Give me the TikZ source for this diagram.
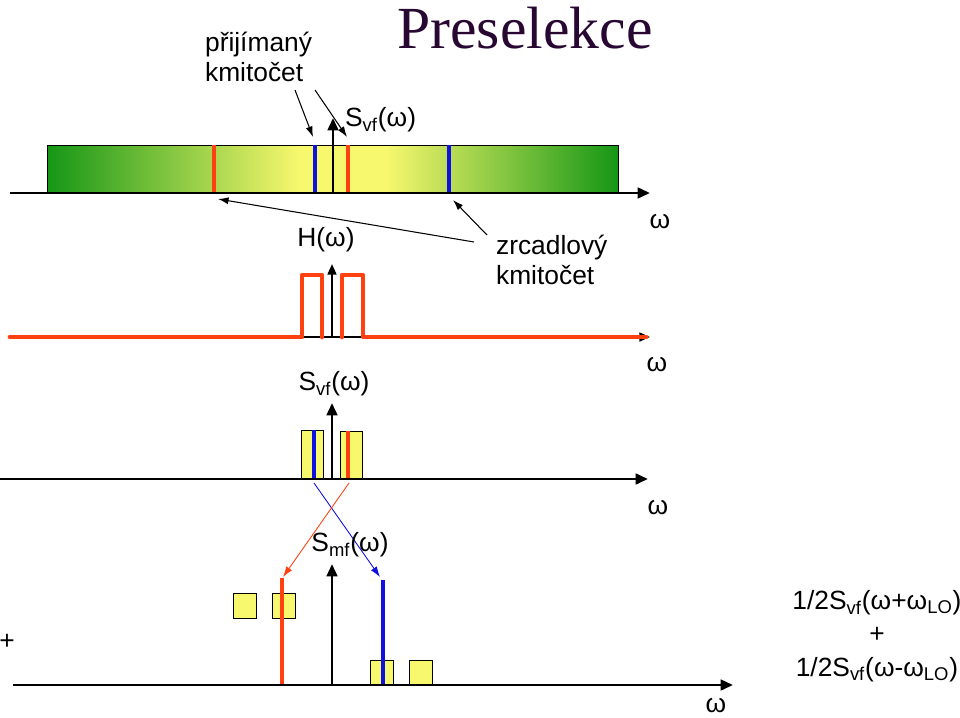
\documentclass[tikz,border=0pt]{standalone}
\usepackage{fontspec}
\setmainfont{Liberation Sans}
\newfontfamily\titlefont{Liberation Serif}
\usetikzlibrary{arrows.meta}
\definecolor{pred}{RGB}{255,64,16}
\definecolor{pblue}{RGB}{16,16,225}
\definecolor{pgreen}{RGB}{22,150,22}
\definecolor{pyellow}{RGB}{248,248,110}
\definecolor{ptitle}{RGB}{40,8,50}
\tikzset{osa/.style = {-{Triangle[length=7pt,width=6pt]}, line width=1.6pt}}
\tikzset{puls/.style = {line width=2.7pt, pred, line join=round, line cap=round}}
\tikzset{cara/.style = {line width=2.2pt}}
\tikzset{ctverec/.style = {draw, fill=pyellow, line width=0.5pt}}
\tikzset{popis/.style = {font=\fontsize{15}{17}\selectfont, inner sep=1pt}}
\tikzset{sipka/.style = {-{Latex[length=6pt,width=4pt]}, line width=0.6pt}}
\newcommand{\vf}{\textsubscript{vf}}

\begin{document}
\begin{tikzpicture}[x=0.02cm, y=-0.02cm]
\useasboundingbox (0,0) rectangle (960,717);

% nadpis
\node[font=\titlefont\fontsize{34}{36}\selectfont, text=ptitle] (nadpis) at (525,28) {Preselekce};
\node[popis, anchor=west, align=left] (prijimany) at (203,57) {přijímaný\\kmitočet};

% horni pas
\shade[left color=pgreen, right color=pyellow] (47,145) rectangle (300,193);
\fill[pyellow] (300,145) rectangle (385,193);
\shade[left color=pyellow, right color=pgreen] (385,145) rectangle (618,193);
\draw[thin] (47,145) rectangle (618,193);
\draw[cara, pred] (214,145) -- (214,193);
\draw[cara, pblue] (315,145) -- (315,193);
\draw[cara, pred] (348,145) -- (348,193);
\draw[cara, pblue] (449,145) -- (449,193);
\draw[line width=0.8pt] (333,145) -- (333,193);
\draw[osa] (333,146) -- (333,118);
\draw[osa] (10,193) -- (650,193);
\node[popis, anchor=west] (svf1) at (343,120) {S\vf(ω)};
\node[popis] (omega1) at (660,222) {ω};

\coordinate (p1) at (295,90);
\coordinate (p2) at (315,90);
\coordinate (c1) at (313,137);
\coordinate (c2) at (347,137);
\draw[sipka] (p1) -- (c1);
\draw[sipka] (p2) -- (c2);

\node[popis, anchor=west, align=left] (zrcadlovy) at (494,260) {zrcadlový\\kmitočet};
\coordinate (z1) at (474,242);
\coordinate (z2) at (487,235);
\coordinate (r1) at (218,199);
\coordinate (b1) at (453,200);
\draw[sipka] (z1) -- (r1);
\draw[sipka] (z2) -- (b1);

% filtr H
\node[popis] (hlabel) at (326,240) {H(ω)};
\draw[-{Triangle[length=6pt,width=5pt]}, line width=1.2pt] (10,337) -- (650,337);
\draw[puls] (10,337) -- (302,337) -- (302,275) -- (322,275) -- (322,337);
\draw[puls] (342,337) -- (342,275) -- (363,275) -- (363,337) -- (646,337);
\draw[-{Triangle[length=6pt,width=5pt]}, line width=1.2pt] (332,337) -- (332,264);
\node[popis] (omega2) at (657,365) {ω};

% spektrum vf
\node[popis] (svf2) at (334,384) {S\vf(ω)};
\draw[ctverec] (301,430) rectangle (323,479);
\draw[ctverec] (340,431) rectangle (362,479);
\draw[cara, pblue] (314,430) -- (314,479);
\draw[cara, pred] (348,431) -- (348,479);
\draw[osa] (332,479) -- (332,403);
\draw[osa] (0,479) -- (648,479);
\node[popis] (omega3) at (658,508) {ω};

\coordinate (vb) at (314,483);
\coordinate (vr) at (349,483);
\coordinate (mb) at (380,577);
\coordinate (mr) at (283,577);
\draw[sipka, pblue, line width=0.5pt] (vb) -- (mb);
\draw[sipka, pred, line width=0.5pt] (vr) -- (mr);
\node[popis] (smf) at (350,545) {S\textsubscript{mf}(ω)};

% spektrum mf
\draw[ctverec] (233,593) rectangle (256,618);
\draw[ctverec] (272,593) rectangle (295,618);
\draw[ctverec] (370,660) rectangle (393,685);
\draw[ctverec] (409,660) rectangle (432,685);
\draw[cara, pred] (282,578) -- (282,685);
\draw[cara, pblue] (383,580) -- (383,685);
\draw[osa] (332,685) -- (332,564);
\draw[osa] (13,685) -- (733,685);
\node[popis] (plus) at (7,642) {+};
\node[popis] (omega4) at (716,706) {ω};
\node[popis, align=center] (vzorec) at (877,636)
  {1/2S\vf(ω+ω\textsubscript{LO})\\[2pt] +\\[2pt] 1/2S\vf(ω-ω\textsubscript{LO})};
\end{tikzpicture}
\end{document}
